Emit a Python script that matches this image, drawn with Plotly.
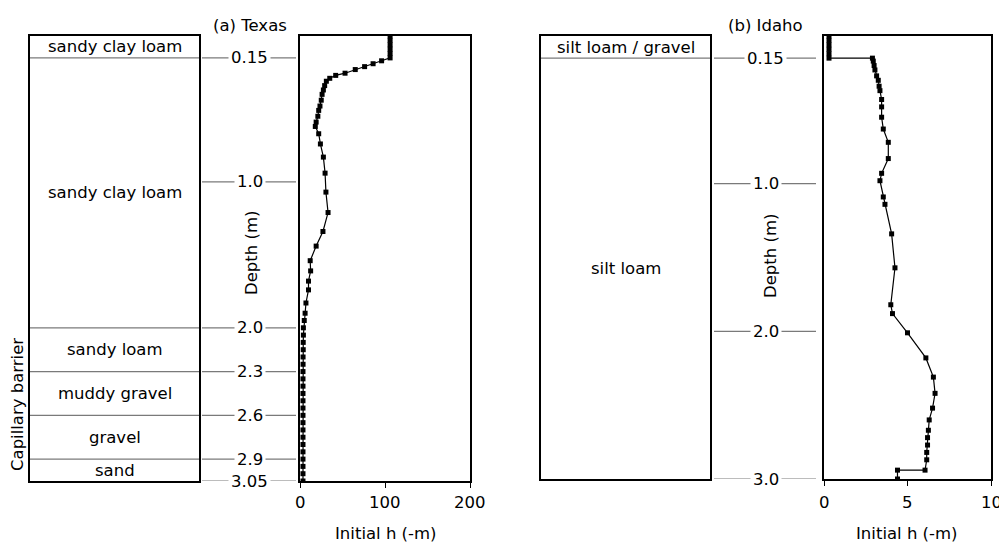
import plotly.graph_objects as go

# ---------------- data ----------------
tx_depth = [0.00, 0.03, 0.06, 0.09, 0.12, 0.15, 0.17, 0.19, 0.21, 0.23, 0.255, 0.27,
            0.29, 0.31, 0.34, 0.37, 0.40, 0.44, 0.48, 0.51, 0.55, 0.59, 0.62, 0.67,
            0.74, 0.83, 0.94, 1.07, 1.21, 1.34, 1.44, 1.54, 1.61, 1.68, 1.74, 1.83,
            1.90, 1.95, 2.00, 2.05, 2.10, 2.15, 2.20, 2.25, 2.30, 2.35, 2.40, 2.45,
            2.50, 2.55, 2.60, 2.65, 2.70, 2.75, 2.80, 2.85, 2.90, 2.95, 3.00, 3.05]
tx_h = [106, 106, 106, 106, 106, 106, 96, 86, 76, 65, 53, 42,
        35, 31, 29, 27.5, 26, 25, 23.5, 22, 21, 19, 18, 22,
        24, 27.5, 29.5, 30.5, 33, 27, 19, 12, 12.5, 10, 10, 7,
        6, 5, 4, 4, 3.8, 3.8, 3.6, 3.6, 3.5, 3.5, 3.5, 3.5,
        3.5, 3.5, 3.5, 3.5, 3.5, 3.5, 3.5, 3.5, 3.5, 3.5, 3.5, 3.5]

id_depth = [0.00, 0.03, 0.06, 0.09, 0.12, 0.15, 0.15, 0.17, 0.20, 0.23, 0.27, 0.30,
            0.34, 0.37, 0.43, 0.48, 0.55, 0.63, 0.72, 0.83, 0.93, 0.98, 1.09, 1.14,
            1.34, 1.57, 1.82, 1.88, 2.01, 2.18, 2.31, 2.42, 2.52, 2.60, 2.67, 2.72,
            2.77, 2.82, 2.87, 2.94, 2.94, 3.00]
id_h = [0.3, 0.3, 0.3, 0.3, 0.3, 0.3, 2.9, 2.95, 3.0, 3.05, 3.15, 3.25,
        3.3, 3.35, 3.45, 3.45, 3.45, 3.55, 3.85, 3.85, 3.45, 3.35, 3.55, 3.65,
        4.05, 4.25, 4.0, 4.1, 5.0, 6.1, 6.55, 6.65, 6.5, 6.3, 6.25, 6.2,
        6.2, 6.15, 6.15, 6.05, 4.4, 4.4]

tx_bounds = [0, 0.15, 2.0, 2.3, 2.6, 2.9, 3.05]
tx_layers = ["sandy clay loam", "sandy clay loam", "sandy loam", "muddy gravel", "gravel", "sand"]
tx_depth_labels = [0.15, 1.0, 2.0, 2.3, 2.6, 2.9, 3.05]
tx_depth_text = ["0.15", "1.0", "2.0", "2.3", "2.6", "2.9", "3.05"]

id_bounds = [0, 0.15, 3.0]
id_layers = ["silt loam / gravel", "silt loam"]
id_depth_labels = [0.15, 1.0, 2.0, 3.0]
id_depth_text = ["0.15", "1.0", "2.0", "3.0"]

tx_xticks = [0, 100, 200]
tx_xtick_text = ["0", "100", "200"]
id_xticks = [0, 5, 10]
id_xtick_text = ["0", "5", "10"]

# ---------------- layout helpers ----------------
W, H = 999, 542
FONT = "DejaVu Sans"
FS = 16.5


def px(x):
    return x / W


def py(y):
    return 1 - y / H


fig = go.Figure()

marker = dict(symbol="square", size=5, color="black")
fig.add_trace(go.Scatter(x=tx_h, y=tx_depth, xaxis="x2", yaxis="y2", mode="lines+markers",
                         line=dict(color="black", width=1.2), marker=marker, showlegend=False))
fig.add_trace(go.Scatter(x=id_h, y=id_depth, xaxis="x4", yaxis="y4", mode="lines+markers",
                         line=dict(color="black", width=1.2), marker=marker, showlegend=False))

box = dict(showgrid=False, zeroline=False, showline=True, mirror=True, automargin=False,
           linecolor="black", linewidth=1.5, fixedrange=True)

layout = dict(
    width=W, height=H, margin=dict(l=0, r=0, t=0, b=0, autoexpand=False),
    paper_bgcolor="white", plot_bgcolor="white",
    font=dict(family=FONT, size=FS, color="black"),
    xaxis=dict(domain=[px(30), px(199)], range=[0, 1], showticklabels=False, ticks="", **box),
    yaxis=dict(domain=[py(481), py(36)], range=[3.05, 0], showticklabels=False, ticks="", **box),
    xaxis2=dict(domain=[px(300), px(470)], range=[0, 200], tickvals=tx_xticks, ticks="outside",
                ticklen=5, tickcolor="black", anchor="y2", showticklabels=False, **box),
    yaxis2=dict(domain=[py(481), py(36)], range=[3.05, 0], showticklabels=False, ticks="",
                anchor="x2", **box),
    xaxis3=dict(domain=[px(541), px(710)], range=[0, 1], showticklabels=False, ticks="",
                anchor="y3", **box),
    yaxis3=dict(domain=[py(479), py(36)], range=[3.0, 0], showticklabels=False, ticks="",
                anchor="x3", **box),
    xaxis4=dict(domain=[px(824), px(991)], range=[0, 10], tickvals=id_xticks, ticks="outside",
                ticklen=5, tickcolor="black", anchor="y4", showticklabels=False, **box),
    yaxis4=dict(domain=[py(479), py(36)], range=[3.0, 0], showticklabels=False, ticks="",
                anchor="x4", **box),
)
fig.update_layout(**layout)

shapes = []
annotations = []
GREY = "#7a7a7a"


def panel(bounds, layers, dlabels, dtext, xr, yr, xlab_c, line_x0, line_x1):
    # layer boundaries inside the layer box
    for b in bounds[1:-1]:
        shapes.append(dict(type="line", xref=xr + " domain", yref=yr, x0=0, x1=1, y0=b, y1=b,
                           line=dict(color=GREY, width=1.2)))
    # layer names
    for i, name in enumerate(layers):
        mid = (bounds[i] + bounds[i + 1]) / 2
        annotations.append(dict(text=name, xref=xr + " domain", yref=yr, x=0.5, y=mid,
                                showarrow=False, xanchor="center", yanchor="middle"))
    # depth labels with side lines
    for d, t in zip(dlabels, dtext):
        shapes.append(dict(type="line", xref="paper", yref=yr, x0=px(line_x0), x1=px(line_x1),
                           y0=d, y1=d, line=dict(color=GREY, width=1.2)))
        annotations.append(dict(text=t, xref="paper", yref=yr, x=px(xlab_c), y=d,
                                showarrow=False, xanchor="center", yanchor="middle",
                                bgcolor="white", borderpad=2))


panel(tx_bounds, tx_layers, tx_depth_labels, tx_depth_text, "x", "y", 249.5, 202, 296)
panel(id_bounds, id_layers, id_depth_labels, id_depth_text, "x3", "y3", 765.5, 714, 816)


def xticklabels(vals, texts, xr, y):
    for v, t in zip(vals, texts):
        annotations.append(dict(text=t, xref=xr, yref="paper", x=v, y=py(y), showarrow=False,
                                xanchor="center", yanchor="middle"))


xticklabels(tx_xticks, tx_xtick_text, "x2", 502)
xticklabels(id_xticks, id_xtick_text, "x4", 502)


def text(t, x, y, angle=0):
    annotations.append(dict(text=t, xref="paper", yref="paper", x=px(x), y=py(y),
                            showarrow=False, xanchor="center", yanchor="middle", textangle=angle))


text("(a) Texas", 250, 25)
text("(b) Idaho", 765, 25)
text("Depth (m)", 251, 253, -90)
text("Depth (m)", 770, 256, -90)
text("Initial h (-m)", 386, 533)
text("Initial h (-m)", 907, 533)
text("Capillary barrier", 17, 405, -90)

fig.update_layout(shapes=shapes, annotations=annotations)
fig.write_html(
    "out.html",
    config={"displayModeBar": False},
    post_script="document.body.style.margin='0';document.body.style.overflow='hidden';",
)
